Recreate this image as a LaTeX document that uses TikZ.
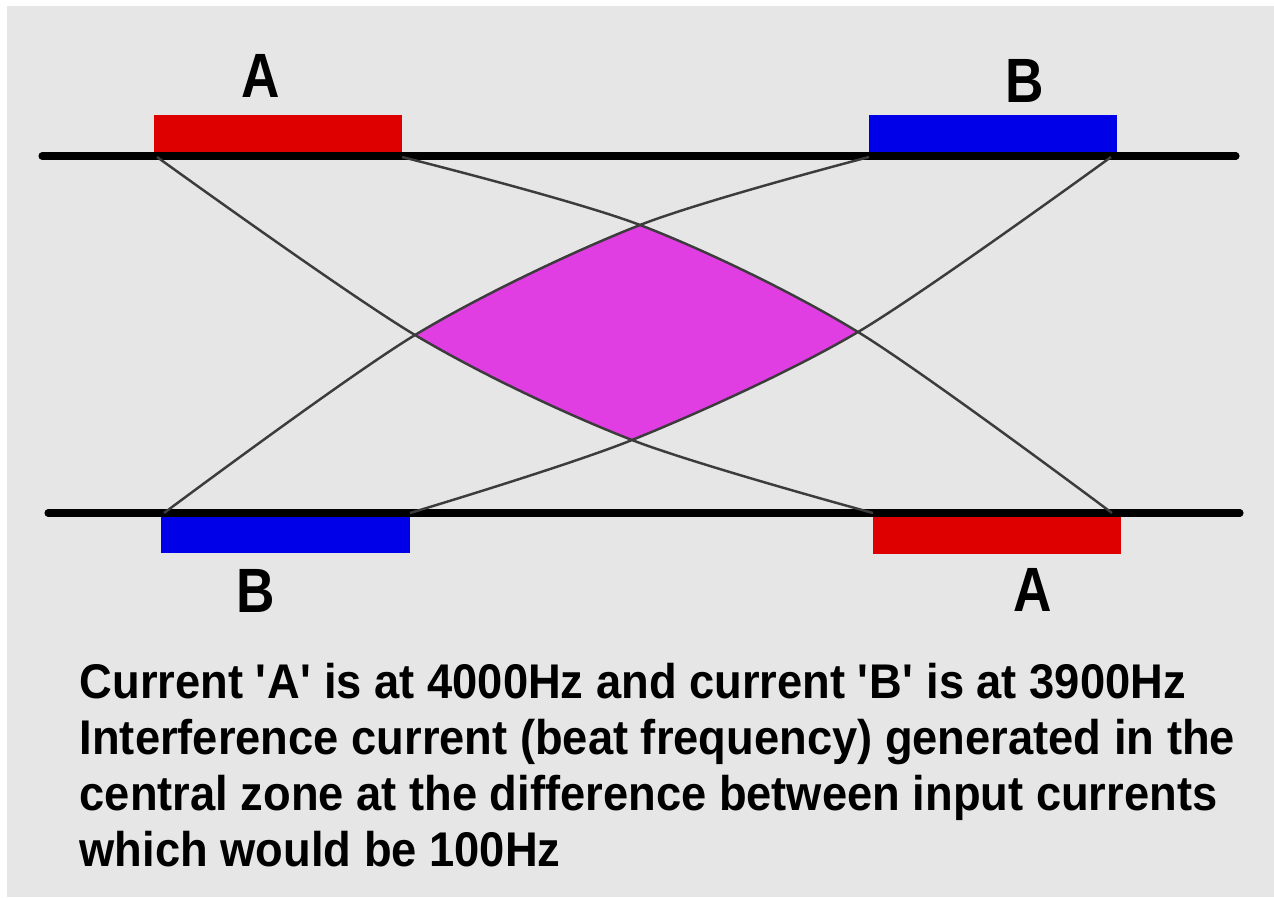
\documentclass[tikz,border=0pt]{standalone}
\usepackage{fontspec}
\setmainfont{Liberation Sans}
\newfontfamily\capfont{Liberation Sans}[FakeStretch=0.93]
\usepackage{graphicx}
\definecolor{bggray}{RGB}{230,230,230}
\definecolor{elred}{RGB}{222,0,0}
\definecolor{elblue}{RGB}{0,0,232}
\definecolor{zone}{RGB}{224,62,226}
\definecolor{field}{RGB}{60,60,60}
\tikzset{
  electrode/.style={rectangle, inner sep=0pt, minimum width=2.48cm, minimum height=0.39cm},
  elA/.style={electrode, fill=elred},
  elB/.style={electrode, fill=elblue},
  skin/.style={line width=2pt, line cap=round, black},
  fieldline/.style={line width=0.7pt, field},
  lbl/.style={inner sep=0pt, font=\fontsize{17.8}{20}\selectfont\bfseries},
  caption/.style={inner sep=0pt, anchor=base west, font=\capfont\fontsize{13.85}{16}\selectfont\bfseries}
}
\begin{document}
\begin{tikzpicture}[x=0.01cm,y=-0.01cm]
\useasboundingbox (0,0) rectangle (1274,897);
\fill[white] (0,0) rectangle (1274,897);
\fill[bggray] (7,6) rectangle (1274,897);

% electrodes
\node[elA] (Atop) at (278,135) {};
\node[elB] (Btop) at (993,135) {};
\node[elB] (Bbot) at (285.5,533.5) {};
\node[elA] (Abot) at (997,534) {};

% skin lines
\coordinate (t1) at (42,156);
\coordinate (t2) at (1236,156);
\coordinate (b1) at (48,513);
\coordinate (b2) at (1240,513);
\draw[skin] (t1) -- (t2);
\draw[skin] (b1) -- (b2);

% crossing points of the field lines
\coordinate (L) at (415,335);
\coordinate (T) at (640,225);
\coordinate (R) at (858,332);
\coordinate (D) at (632,440);
\coordinate (a1) at (157,157);
\coordinate (a2) at (402,157);
\coordinate (b3) at (869,157);
\coordinate (b4) at (1111,157);
\coordinate (c1) at (164,513);
\coordinate (c2) at (410,513);
\coordinate (d1) at (873,513);
\coordinate (d2) at (1112,513);

% interference zone
\begin{scope}
\clip plot[smooth] coordinates {(a1) (L) (D) (d1)} -- (1300,513) -- (1300,-50) -- (157,-50) -- cycle;
\clip plot[smooth] coordinates {(b4) (R) (D) (c2)} -- (-50,513) -- (-50,-50) -- (1111,-50) -- cycle;
\clip plot[smooth] coordinates {(a2) (T) (R) (d2)} -- (1112,950) -- (-50,950) -- (-50,157) -- cycle;
\clip plot[smooth] coordinates {(b3) (T) (L) (c1)} -- (164,950) -- (1300,950) -- (1300,157) -- cycle;
\fill[zone] (0,0) rectangle (1274,897);
\end{scope}

% field lines
\draw[fieldline] plot[smooth] coordinates {(a1) (L) (D) (d1)};
\draw[fieldline] plot[smooth] coordinates {(a2) (T) (R) (d2)};
\draw[fieldline] plot[smooth] coordinates {(b3) (T) (L) (c1)};
\draw[fieldline] plot[smooth] coordinates {(b4) (R) (D) (c2)};

% labels
\node[lbl] (lA1) at (261,76) {\scalebox{0.85}[1]{A}};
\node[lbl] (lB1) at (1025,81) {\scalebox{0.85}[1]{B}};
\node[lbl] (lB2) at (256,591) {\scalebox{0.85}[1]{B}};
\node[lbl] (lA2) at (1033,590) {\scalebox{0.85}[1]{A}};

% caption
\node[caption] (c1t) at (79,698) {Current \textquotesingle A\textquotesingle\ is at 4000Hz and current \textquotesingle B\textquotesingle\ is at 3900Hz};
\node[caption] (c2t) at (79,754) {Interference current (beat frequency) generated in the};
\node[caption] (c3t) at (79,810) {central zone at the difference between input currents};
\node[caption] (c4t) at (79,866) {which would be 100Hz};
\end{tikzpicture}
\end{document}
